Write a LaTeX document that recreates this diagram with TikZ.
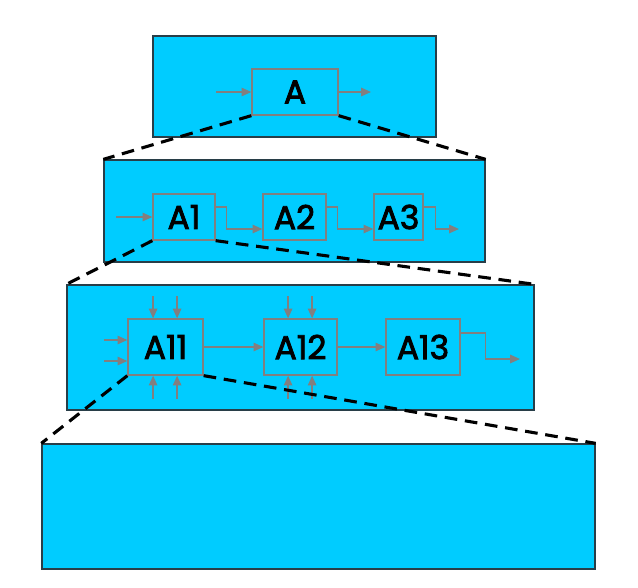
\documentclass[tikz,border=0pt]{standalone}
\usepackage{fontspec}
\setmainfont{Poppins}
\newfontfamily\actfont{Poppins}[FakeBold=2.5]
\usetikzlibrary{arrows.meta}

\definecolor{panelfill}{RGB}{0,204,255}
\definecolor{paneledge}{RGB}{40,62,72}
\definecolor{flowgray}{RGB}{130,127,127}

\begin{document}
\begin{tikzpicture}[x=0.025cm,y=-0.025cm,
  panel/.style={draw=paneledge,fill=panelfill,line width=0.9pt,inner sep=0pt},
  act/.style={draw=flowgray,line width=0.9pt,inner sep=0pt,minimum height=1.15cm,
    font=\actfont\fontsize{23.5}{27}\selectfont},
  flow/.style={flowgray,line width=1.1pt,-{Triangle[length=7pt,width=6pt]}},
  zoomline/.style={black,line width=2.2pt,dash pattern=on 9pt off 5.5pt}]
\useasboundingbox (0,0) rectangle (638,587);

% levels of decomposition
\node[panel,minimum width=7.075cm,minimum height=2.525cm] (top) at (294.5,86.5) {};
\node[panel,minimum width=9.525cm,minimum height=2.55cm] (lvl1) at (294.5,211) {};
\node[panel,minimum width=11.675cm,minimum height=3.125cm] (lvl2) at (300.5,347.5) {};
\node[panel,minimum width=13.825cm,minimum height=3.125cm] (lvl3) at (318.5,506.5) {};

% top level
\node[act,minimum width=2.15cm] (A) at (295,92) {A};
\coordinate (A-in) at (216,92);
\coordinate (A-out) at (371,92);
\draw[flow] (A-in) -- (A.west);
\draw[flow] (A.east) -- (A-out);

% level 1
\node[act,minimum width=1.55cm] (A1) at (184,217) {A1};
\node[act,minimum width=1.575cm] (A2) at (294.5,217) {A2};
\node[act,minimum width=1.225cm] (A3) at (398.5,217) {A3};
\coordinate (A1-in) at (116,217);
\coordinate (A3-out) at (459,229);
\draw[flow] (A1-in) -- (A1.west);
\draw[flow] ([yshift=0.25cm]A1.east) -- ++(11,0) |- ([yshift=-0.3cm]A2.west);
\draw[flow] ([yshift=0.25cm]A2.east) -- ++(11,0) |- ([yshift=-0.3cm]A3.west);
\draw[flow] ([yshift=0.25cm]A3.east) -- ++(12,0) |- (A3-out);

% level 2
\node[act,minimum width=1.875cm,minimum height=1.4cm] (A11) at (165.5,347) {A11};
\node[act,minimum width=1.825cm,minimum height=1.4cm] (A12) at (300.5,347) {A12};
\node[act,minimum width=1.85cm,minimum height=1.4cm] (A13) at (423,347) {A13};
\coordinate (A11-in1) at (104,340);
\coordinate (A11-in2) at (104,361);
\coordinate (A13-out) at (520,359);
\draw[flow] (A11-in1) -- (A11-in1 -| A11.west);
\draw[flow] (A11-in2) -- (A11-in2 -| A11.west);
\draw[flow] (A11.east) -- (A12.west);
\draw[flow] (A12.east) -- (A13.west);
\draw[flow] ([yshift=0.35cm]A13.east) -- ++(25,0) |- (A13-out);
\foreach \n in {A11,A12}
  \foreach \dx in {-0.31cm,0.29cm} {
    \draw[flow,{Triangle[length=7pt,width=6pt]}-] ([xshift=\dx]\n.north) -- ++(0,-22);
    \draw[flow,{Triangle[length=7pt,width=6pt]}-] ([xshift=\dx]\n.south) -- ++(0,23);
  }

% zoom-in lines
\draw[zoomline] (A.south west) -- (lvl1.north west);
\draw[zoomline] (A.south east) -- (lvl1.north east);
\draw[zoomline] (A1.south west) -- (lvl2.north west);
\draw[zoomline] (A1.south east) -- (lvl2.north east);
\draw[zoomline] (A11.south west) -- (lvl3.north west);
\draw[zoomline] (A11.south east) -- (lvl3.north east);
\end{tikzpicture}
\end{document}
